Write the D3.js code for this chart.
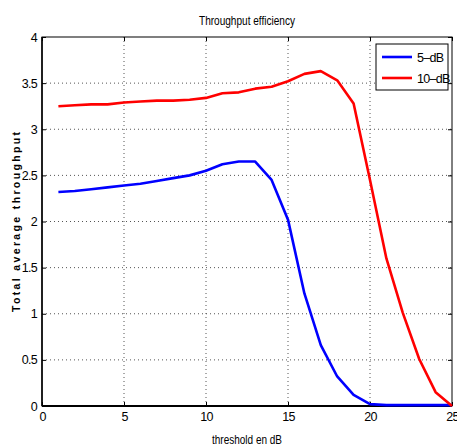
<!DOCTYPE html>
<html>
<head>
<meta charset="utf-8">
<script src="https://cdn.jsdelivr.net/npm/d3@7"></script>
<style>
  body { margin: 0; background: #fff; }
  text { font-family: "Liberation Sans", Arial, sans-serif; fill: #000; }
  .grid line { stroke: #555; stroke-dasharray: 1,3; stroke-width: 1; }
  .tick text { font-size: 12.5px; letter-spacing: -0.7px; }
</style>
</head>
<body>
<div id="chart"></div>
<script>
// threshold values (dB)
var thresholds = [1,2,3,4,5,6,7,8,9,10,11,12,13,14,15,16,17,18,19,20,21,22,23,24,25];
// series values
var tp5dB  = [2.32,2.33,2.35,2.37,2.39,2.41,2.44,2.47,2.50,2.55,2.62,2.65,2.65,2.45,2.02,1.22,0.66,0.32,0.12,0.02,0.01,0.01,0.01,0.01,0.01];
var tp10dB = [3.25,3.26,3.27,3.27,3.29,3.30,3.31,3.31,3.32,3.34,3.39,3.40,3.44,3.46,3.52,3.60,3.63,3.53,3.28,2.45,1.60,1.01,0.51,0.15,0.0];
var seriesNames = ["5\u2013dB", "10\u2013dB"];
var seriesColors = ["#0000ff", "#ff0000"];
var xTicks = [0,5,10,15,20,25];
var yTicks = [0,0.5,1,1.5,2,2.5,3,3.5,4];

var W = 457, H = 447;
var margin = {top: 37, right: 5, bottom: 41, left: 42};
var w = W - margin.left - margin.right;
var h = H - margin.top - margin.bottom;

var svg = d3.select("#chart").append("svg")
    .attr("width", W).attr("height", H);

var g = svg.append("g")
    .attr("transform", "translate(" + margin.left + "," + margin.top + ")");

var x = d3.scaleLinear().domain([0, 25]).range([0, w]);
var y = d3.scaleLinear().domain([0, 4]).range([h, 0]);

// dotted grid
var grid = g.append("g").attr("class", "grid");
grid.selectAll(".gx").data(xTicks.slice(1, -1)).enter().append("line")
    .attr("x1", d => x(d)).attr("x2", d => x(d))
    .attr("y1", 0).attr("y2", h);
grid.selectAll(".gy").data(yTicks.slice(1, -1)).enter().append("line")
    .attr("x1", 0).attr("x2", w)
    .attr("y1", d => y(d)).attr("y2", d => y(d));

// axes, ticks inward
var fmt = d3.format("");
g.append("g").attr("transform", "translate(0," + h + ")")
    .call(d3.axisBottom(x).tickValues(xTicks).tickSize(-4).tickPadding(6).tickFormat(fmt))
    .call(a => a.select(".domain").remove());
g.append("g")
    .call(d3.axisLeft(y).tickValues(yTicks).tickSize(-4).tickPadding(5).tickFormat(fmt))
    .call(a => a.select(".domain").remove());
g.append("g")
    .call(d3.axisTop(x).tickValues(xTicks).tickSize(-4).tickFormat(""))
    .call(a => a.select(".domain").remove());
g.append("g").attr("transform", "translate(" + w + ",0)")
    .call(d3.axisRight(y).tickValues(yTicks).tickSize(-4).tickFormat(""))
    .call(a => a.select(".domain").remove());
g.selectAll(".tick text").attr("font-family", null).attr("font-size", null);

// box
g.append("rect").attr("width", w).attr("height", h)
    .attr("fill", "none").attr("stroke", "#000").attr("stroke-width", 1);
g.append("line").attr("x1", 0).attr("x2", w).attr("y1", h).attr("y2", h)
    .attr("stroke", "#000").attr("stroke-width", 2);
g.append("line").attr("x1", 0).attr("x2", 0).attr("y1", 0).attr("y2", h)
    .attr("stroke", "#000").attr("stroke-width", 1.5);

// lines
var line = d3.line()
    .x((d, i) => x(thresholds[i]))
    .y(d => y(d));
[tp5dB, tp10dB].forEach(function (s, k) {
    g.append("path")
        .attr("d", line(s))
        .attr("fill", "none")
        .attr("stroke", seriesColors[k])
        .attr("stroke-width", 2.6)
        .attr("stroke-linejoin", "round");
});

// legend
var lg = g.append("g").attr("transform", "translate(" + (376 - margin.left) + "," + (44 - margin.top) + ")");
lg.append("rect").attr("width", 72).attr("height", 46)
    .attr("fill", "#fff").attr("stroke", "#000").attr("stroke-width", 1);
seriesNames.forEach(function (n, k) {
    var yy = 13 + k * 21;
    lg.append("line").attr("x1", 6).attr("x2", 36).attr("y1", yy).attr("y2", yy)
        .attr("stroke", seriesColors[k]).attr("stroke-width", 2.6);
    lg.append("text").attr("x", 41).attr("y", yy + 5)
        .attr("font-size", 12.5).attr("letter-spacing", -0.7).text(n);
});

// titles
svg.append("text").attr("x", 247).attr("y", 25)
    .attr("text-anchor", "middle").attr("font-size", 13)
    .attr("textLength", 96).attr("lengthAdjust", "spacingAndGlyphs")
    .text("Throughput efficiency");
svg.append("text").attr("x", 247).attr("y", 444)
    .attr("text-anchor", "middle").attr("font-size", 13)
    .attr("textLength", 70).attr("lengthAdjust", "spacingAndGlyphs")
    .text("threshold en dB");
svg.append("text")
    .attr("transform", "translate(20,222) rotate(-90)")
    .attr("text-anchor", "middle").attr("font-size", 10.5).attr("font-weight", "bold")
    .attr("textLength", 180).attr("lengthAdjust", "spacing")
    .text("Total average throughput");
</script>
</body>
</html>
